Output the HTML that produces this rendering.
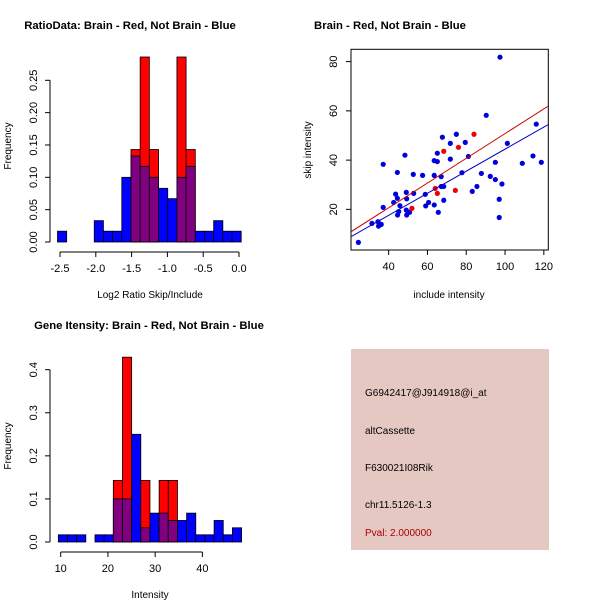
<!DOCTYPE html>
<html><head><meta charset="utf-8"><style>
body{margin:0;background:#fff;}
svg{display:block;font-family:"Liberation Sans",sans-serif;}
</style></head><body>
<svg id="c" width="600" height="600" viewBox="0 0 600 600"></svg>
<script>
// ---- Ratio histogram data ----
const ratioBreakStart = -2.535, ratioBinWidth = 0.1283;
const ratioBlue = [0.0167,0,0,0,0.033,0.0167,0.0167,0.1,0.133,0.117,0.1,0.083,0.067,0.1,0.117,0.0167,0.0167,0.033,0.0167,0.0167];
const ratioRed  = [0,0,0,0,0,0,0,0,0.143,0.286,0.143,0,0,0.286,0.143,0,0,0,0,0];
const ratioXTicks = [-2.5,-2.0,-1.5,-1.0,-0.5,0.0];
const ratioXTickLabels = ["-2.5","-2.0","-1.5","-1.0","-0.5","0.0"];
const ratioYTicks = [0,0.05,0.10,0.15,0.20,0.25];
const ratioYTickLabels = ["0.00","0.05","0.10","0.15","0.20","0.25"];
// ---- Intensity histogram data ----
const intBreakStart = 9.5, intBinWidth = 1.94;
const intBlue = [0.0167,0.0167,0.0167,0,0.0167,0.0167,0.1,0.1,0.25,0.033,0.067,0.067,0.05,0.05,0.067,0.0167,0.0167,0.05,0.0167,0.033];
const intRed  = [0,0,0,0,0,0,0.143,0.429,0,0.143,0,0.143,0.143,0,0,0,0,0,0,0];
const intXTicks = [10,20,30,40];
const intYTicks = [0,0.1,0.2,0.3,0.4];
const intYTickLabels = ["0.0","0.1","0.2","0.3","0.4"];
// ---- Scatter data ----
const blueX = [24.4,31.4,34.5,34.8,36.2,37.2,37.2,42.6,43.6,44.5,44.5,44.6,45.2,45.8,48.4,49.1,49.1,49.3,49.3,50.8,52.7,52.9,57.5,58.9,59.1,60.6,63.5,63.5,63.5,65.1,65.1,65.6,67.1,67.1,67.7,68.4,68.4,71.8,71.8,74.9,77.8,79.5,81.1,83.1,85.5,87.8,90.3,92.4,95,95,97,97,97.4,98.4,101.2,108.9,114.4,116.1,118.7];
const blueY = [6.6,14.3,15,13.2,13.9,38.3,20.8,22.8,26.2,35,24.5,17.7,19.1,21.5,42,26.9,19.7,24.3,17.7,18.8,34.2,26.5,33.8,26.1,21.4,22.8,39.8,33.8,21.8,42.8,39.4,18.8,33.3,29.3,49.3,29.3,23.7,46.8,40.4,50.5,34.9,47.2,41.5,27.3,29.3,34.6,58.2,33.4,39.1,32.1,16.7,24.1,81.8,30.3,46.8,38.7,41.7,54.6,39.1];
const redX = [52,64,65.1,68.4,74.4,76,84];
const redY = [20.4,28.5,26.5,43.6,27.7,45.2,50.5];
const redFit = [0.56,0.502];   // intercept, slope
const blueFit = [-0.34,0.448];
const scXTicks = [40,60,80,100,120];
const scYTicks = [20,40,60,80];

const svg = document.getElementById('c');
const NS = 'http://www.w3.org/2000/svg';
function mk(tag, attrs, parent){const e=document.createElementNS(NS,tag);for(const k in attrs)e.setAttribute(k,attrs[k]);(parent||svg).appendChild(e);return e;}
function txt(s, x, y, size, opts){const e=mk('text',Object.assign({x:x,y:y,'font-size':size,'text-anchor':'middle',fill:'#000'},opts||{}));e.textContent=s;return e;}

function hist(g, cfg){
  const sx=v=>cfg.x0+(v-cfg.v0)*cfg.kx, sy=v=>cfg.y0-v*cfg.ky;
  for(let i=0;i<cfg.blue.length;i++){
    const a=cfg.start+i*cfg.w, b=a+cfg.w;
    const x=sx(a), wpx=sx(b)-sx(a);
    const bl=cfg.blue[i], rd=cfg.red[i];
    if(rd>0){
      const r=mk('rect',{x:x,y:sy(rd),width:wpx,height:sy(0)-sy(rd),fill:'#ff0000',stroke:'#000','stroke-width':0.8},g);
      
      
    }
    if(bl>0){
      const ov = rd>0;
      const h=ov?Math.min(bl,rd):bl;
      const r=mk('rect',{x:x,y:sy(h),width:wpx,height:sy(0)-sy(h),fill:ov?'#800080':'#0000ff',stroke:'#000','stroke-width':0.8},g);
      
      
    }
  }
  const xa=mk('g',{},g);
  mk('line',{x1:sx(cfg.xt[0]),x2:sx(cfg.xt[cfg.xt.length-1]),y1:cfg.axY,y2:cfg.axY,stroke:'#000'},xa);
  cfg.xt.forEach((t,i)=>{mk('line',{x1:sx(t),x2:sx(t),y1:cfg.axY,y2:cfg.axY+5,stroke:'#000'},xa);txt(cfg.xl[i],sx(t),cfg.axY+20,11,{});});
  const ya=mk('g',{},g);
  mk('line',{x1:cfg.axX,x2:cfg.axX,y1:sy(cfg.yt[0]),y2:sy(cfg.yt[cfg.yt.length-1]),stroke:'#000'},ya);
  cfg.yt.forEach((t,i)=>{mk('line',{x1:cfg.axX,x2:cfg.axX-5,y1:sy(t),y2:sy(t),stroke:'#000'},ya);txt(cfg.yl[i],0,0,11,{transform:`translate(${cfg.axX-13},${sy(t)}) rotate(-90)`,});});
}

// Top-left
const g1=mk('g',{});
txt('RatioData: Brain - Red, Not Brain - Blue',130,29,11.3,{'font-weight':'bold',});
hist(g1,{x0:60,v0:-2.5,kx:71.6,y0:242,ky:646.8,start:ratioBreakStart,w:ratioBinWidth,blue:ratioBlue,red:ratioRed,xt:ratioXTicks,xl:ratioXTickLabels,yt:ratioYTicks,yl:ratioYTickLabels,axY:252,axX:50});
txt('Log2 Ratio Skip/Include',150,298,10,{});
txt('Frequency',0,0,10,{transform:'translate(11,146) rotate(-90)',});

// Bottom-left
const g2=mk('g',{});
txt('Gene Itensity: Brain - Red, Not Brain - Blue',149,329,11.3,{'font-weight':'bold',});
hist(g2,{x0:60.7,v0:10,kx:4.723,y0:542,ky:430.8,start:intBreakStart,w:intBinWidth,blue:intBlue,red:intRed,xt:intXTicks,xl:intXTicks.map(String),yt:intYTicks,yl:intYTickLabels,axY:552,axX:50});
txt('Intensity',150,598,10,{});
txt('Frequency',0,0,10,{transform:'translate(11,446) rotate(-90)',});

// Scatter
const g3=mk('g',{});
txt('Brain - Red, Not Brain - Blue',390,29,11.3,{'font-weight':'bold',});
const L=351,R=548.3,T=49.3,B=250;
const xmin=20.6,xmax=122.3,ymin=3.5,ymax=85.0;
const px=v=>L+(v-xmin)/(xmax-xmin)*(R-L), py=v=>B-(v-ymin)/(ymax-ymin)*(B-T);
mk('rect',{x:L,y:T,width:R-L,height:B-T,fill:'none',stroke:'#000',},g3);
const clip=mk('clipPath',{id:'cp'},g3);mk('rect',{x:L,y:T,width:R-L,height:B-T},clip);
const xa=mk('g',{},g3);
scXTicks.forEach(t=>{mk('line',{x1:px(t),x2:px(t),y1:B,y2:B+5,stroke:'#000'},xa);txt(String(t),px(t),B+20,11,{});});
const ya=mk('g',{},g3);
scYTicks.forEach(t=>{mk('line',{x1:L,x2:L-5,y1:py(t),y2:py(t),stroke:'#000'},ya);txt(String(t),0,0,11,{transform:`translate(${L-14},${py(t)}) rotate(-90)`,});});
txt('include intensity',449,298,10,{});
txt('skip intensity',0,0,10,{transform:'translate(311,150) rotate(-90)',});
for(let i=0;i<blueX.length;i++){
  const c=mk('circle',{cx:px(blueX[i]),cy:py(blueY[i]),r:2.6,fill:'#0000dd'},g3);
  
  
}
for(let i=0;i<redX.length;i++){
  const c=mk('circle',{cx:px(redX[i]),cy:py(redY[i]),r:2.6,fill:'#ee0000'},g3);
  
  
}
[[redFit,'#cc0000','red-fit-line'],[blueFit,'#0000cc','blue-fit-line']].forEach(([f,col,n])=>{
  const l=mk('line',{x1:px(xmin),y1:py(f[0]+f[1]*xmin),x2:px(xmax),y2:py(f[0]+f[1]*xmax),stroke:col,'stroke-width':1,'clip-path':'url(#cp)'},g3);
  
  
});

// Info panel
const g4=mk('g',{});
mk('rect',{x:351,y:349,width:198,height:201,fill:'#e6c8c2'},g4);
const info=[['G6942417@J914918@i_at',396,'#000','probe-id'],['altCassette',434,'#000','event-type'],['F630021I08Rik',471,'#000','gene-name'],['chr11.5126-1.3',508,'#000','location'],['Pval: 2.000000',536,'#aa0000','p-value']];
info.forEach(([s,y,c,n])=>txt(s,365,y,10,{'text-anchor':'start',fill:c,}));
</script>
</body></html>
